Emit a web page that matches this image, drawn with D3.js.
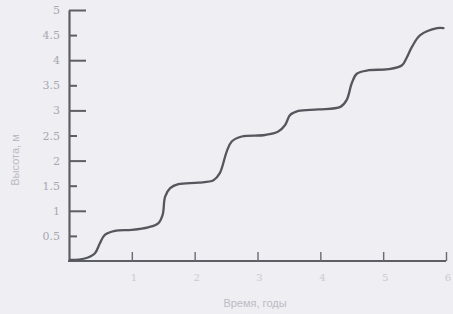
<!DOCTYPE html>
<html><head><meta charset="utf-8">
<script src="https://cdn.jsdelivr.net/npm/d3@7"></script>
<style>html,body{margin:0;padding:0;background:#efeef3;}svg{display:block;}</style>
</head><body>
<svg id="c" width="453" height="314"></svg>
<script>
const years = [0.02,0.25,0.41,0.49,0.57,0.73,1.0,1.26,1.42,1.49,1.53,1.61,1.74,2.06,2.30,2.40,2.51,2.59,2.75,3.12,3.33,3.44,3.52,3.65,3.97,4.32,4.42,4.50,4.58,4.77,5.08,5.30,5.37,5.46,5.59,5.86,5.96];
const heights = [0.02,0.05,0.15,0.35,0.52,0.60,0.62,0.67,0.75,0.92,1.28,1.45,1.53,1.56,1.61,1.75,2.18,2.38,2.48,2.51,2.58,2.71,2.91,2.99,3.02,3.07,3.21,3.54,3.73,3.80,3.82,3.90,4.04,4.27,4.50,4.64,4.64];
const yTicks = [0,0.5,1,1.5,2,2.5,3,3.5,4,4.5,5];
const xTicks = [1,2,3,4,5,6];
const xTitle = "Время, годы";
const yTitle = "Высота, м";

const svg = d3.select("#c");
const x = d3.scaleLinear().domain([0,6]).range([69,446]);
const y = d3.scaleLinear().domain([0,5]).range([261,10]);

const g = svg.append("g");
// y axis
const yAxis = g.append("g").attr("transform","translate(69,0)")
  .call(d3.axisRight(y).tickValues(yTicks).tickSize(0).tickFormat(""));
yAxis.select(".domain").attr("stroke","#5e5e66").attr("stroke-width",2.2);
yAxis.selectAll(".tick line").attr("x2",d=>Number.isInteger(d)?17:8)
  .attr("stroke","#5e5e66").attr("stroke-width",2);
yAxis.selectAll(".tick").filter(d=>d===0).select("line").remove();
g.selectAll(".ylab").data(yTicks.filter(d=>d>0)).enter().append("text")
  .attr("x",60).attr("y",d=>y(d)+4).attr("text-anchor","end")
  .attr("font-family","DejaVu Serif, Liberation Serif, serif").attr("font-size",11).attr("fill","#a8a8b0")
  .text(d=>String(d));

// x axis
const xAxis = g.append("g").attr("transform","translate(0,261)")
  .call(d3.axisTop(x).tickValues(xTicks).tickSize(9).tickFormat(""));
xAxis.select(".domain").attr("stroke","#5e5e66").attr("stroke-width",2.2).attr("d","M68,0H446");
xAxis.selectAll(".tick line").attr("stroke","#6a6a72").attr("stroke-width",1.4);
g.selectAll(".xlab").data(xTicks).enter().append("text")
  .attr("x",d=>x(d)+2).attr("y",281).attr("text-anchor","middle")
  .attr("font-family","DejaVu Serif, Liberation Serif, serif").attr("font-size",10).attr("fill","#cbcad2")
  .text(d=>d);

// titles
svg.append("text").attr("x",255).attr("y",307).attr("text-anchor","middle")
  .attr("font-family","Liberation Sans Narrow, Liberation Sans").attr("font-size",11)
  .attr("fill","#bcbbc4").text(xTitle);
svg.append("text").attr("transform","translate(19,160) rotate(-90)").attr("text-anchor","middle")
  .attr("font-family","Liberation Sans Narrow, Liberation Sans").attr("font-size",11)
  .attr("fill","#bcbbc4").text(yTitle);

// curve
const pts = years.map((v,i)=>[v,heights[i]]);
svg.append("path").datum(pts)
  .attr("fill","none").attr("stroke","#56565e").attr("stroke-width",2.3)
  .attr("stroke-linecap","round")
  .attr("d",d3.line().x(d=>x(d[0])).y(d=>y(d[1])).curve(d3.curveCatmullRom.alpha(0.5)));
</script>
</body></html>
